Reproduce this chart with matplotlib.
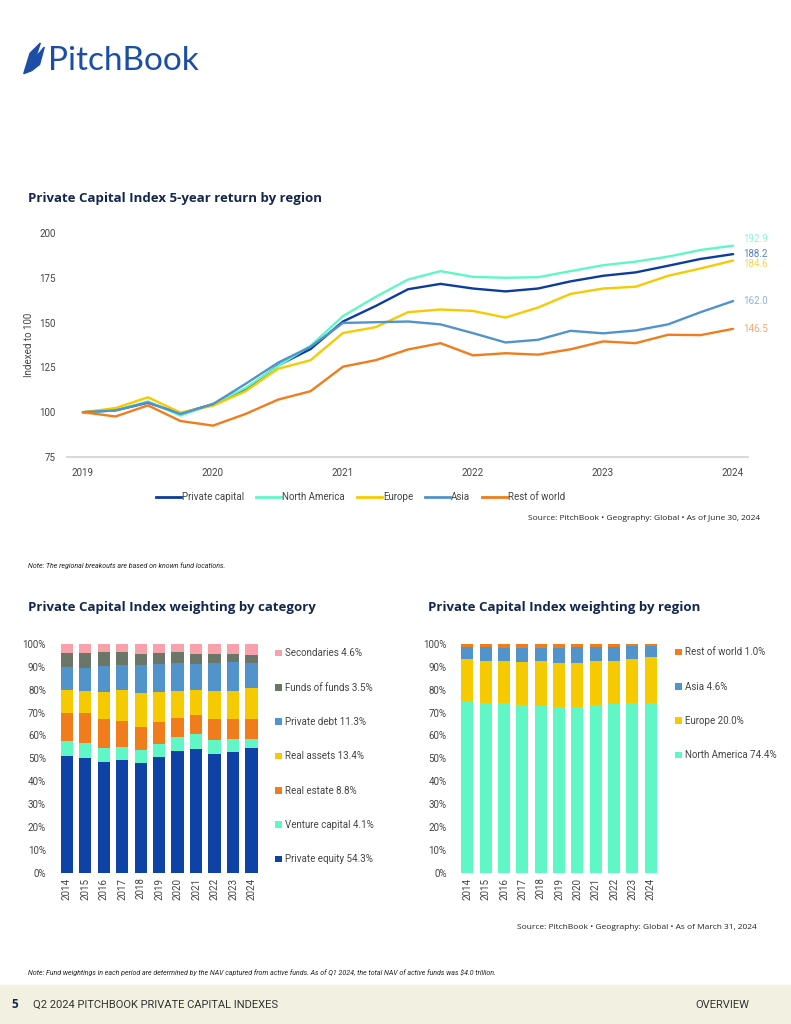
import matplotlib
matplotlib.use('Agg')

import matplotlib.pyplot as plt
import matplotlib.patches as mpatches
from matplotlib.lines import Line2D
import numpy as np

plt.rcParams['font.family'] = ['Roboto', 'DejaVu Sans']

# ---- data: 5-year return by region (quarterly, Q4 2018 .. Q2 2024 indexed to 100)
quarters = list(range(21))
year_ticks = [0, 4, 8, 12, 16, 20]
year_labels = ['2019', '2020', '2021', '2022', '2023', '2024']

private_capital = [100, 101, 105.3, 99.2, 104.5, 112.6, 126.1, 135.2, 150.6, 159.2, 168.6,
                   171.6, 169, 167.4, 169, 173, 176.1, 178, 181.7, 185.5, 188.2]
north_america = [100, 101, 106, 98.1, 104.5, 113.5, 125.8, 137, 153.6, 164.3, 174,
                 178.7, 175.5, 175, 175.3, 178.7, 182, 184, 186.8, 190.5, 192.9]
europe = [100, 102.3, 108.3, 99.8, 103.6, 111.7, 124.2, 129, 144.2, 147.4, 155.8,
          157.3, 156.5, 152.8, 158.4, 166, 169, 170, 176.1, 180.2, 184.6]
asia = [100, 101, 105.5, 99, 104.5, 115.8, 127.6, 136.5, 149.8, 150.2, 150.6,
        149, 144.1, 138.9, 140.4, 145.4, 144, 145.6, 149, 155.8, 162.0]
rest_of_world = [100, 97.6, 103.8, 95.1, 92.5, 99, 107, 111.7, 125.4, 129, 135,
                 138.5, 131.7, 132.9, 132.1, 135.1, 139.5, 138.5, 143.2, 143, 146.5]

line_names = ['Private capital', 'North America', 'Europe', 'Asia', 'Rest of world']
line_series = [private_capital, north_america, europe, asia, rest_of_world]
line_colors = ['#0c3c9e', '#5ff7c6', '#f5cb00', '#5193cb', '#f07c1c']
label_colors = ['#5a7fc4', '#8cf5d6', '#f7d54d', '#8ab4dc', '#f5a76a']
label_offsets = [0, 4, -2, 0, 0]

# ---- data: weighting by category
years = ['2014', '2015', '2016', '2017', '2018', '2019', '2020', '2021', '2022', '2023', '2024']
cat_names = ['Private equity', 'Venture capital', 'Real estate', 'Real assets',
             'Private debt', 'Funds of funds', 'Secondaries']
private_equity = [51.0, 50.0, 48.4, 49.3, 47.8, 50.7, 53.2, 54.2, 51.9, 52.8, 54.3]
venture_capital = [6.7, 6.6, 6.1, 5.8, 5.8, 5.6, 6.1, 6.4, 6.1, 5.5, 4.1]
real_estate = [12.0, 13.1, 12.6, 11.2, 10.2, 9.6, 8.5, 8.4, 9.1, 8.8, 8.8]
real_assets = [10.2, 9.9, 12.1, 13.4, 14.9, 13.3, 11.8, 10.9, 12.3, 12.5, 13.4]
private_debt = [10.2, 10.1, 11.2, 11.1, 12.0, 12.1, 11.9, 11.4, 12.4, 12.7, 11.3]
funds_of_funds = [6.1, 6.2, 6.1, 5.6, 5.1, 4.8, 5.0, 4.5, 4.0, 3.3, 3.5]
secondaries = [3.8, 4.1, 3.5, 3.6, 4.2, 3.9, 3.5, 4.2, 4.2, 4.4, 4.6]
cat_series = [private_equity, venture_capital, real_estate, real_assets,
              private_debt, funds_of_funds, secondaries]
cat_colors = ['#0e42a6', '#5ff7c6', '#f07c1c', '#f5cb00', '#5193cb', '#6b7669', '#f8a1ab']

# ---- data: weighting by region
reg_names = ['North America', 'Europe', 'Asia', 'Rest of world']
reg_na = [75.1, 74.1, 74.3, 73.5, 73.0, 72.4, 72.4, 73.2, 73.9, 74.1, 74.4]
reg_eu = [18.2, 18.3, 18.1, 18.8, 19.4, 19.4, 19.4, 19.5, 18.8, 19.5, 20.0]
reg_asia = [5.5, 6.4, 6.0, 6.1, 6.0, 6.6, 6.7, 6.0, 6.0, 5.4, 4.6]
reg_row = [1.2, 1.2, 1.6, 1.6, 1.6, 1.6, 1.5, 1.3, 1.3, 1.0, 1.0]
reg_series = [reg_na, reg_eu, reg_asia, reg_row]
reg_colors = ['#5ff7c6', '#f5cb00', '#5193cb', '#f07c1c']

navy = '#13264d'
grey_txt = '#444444'

fig = plt.figure(figsize=(7.91, 10.24), dpi=100)

# logo
fig.text(0.061, 0.940, 'PitchBook', fontsize=24, color='#1d4ea6',
         family=['Lato', 'DejaVu Sans'], va='center', ha='left')
logo = mpatches.Polygon([[0.030, 0.928], [0.038, 0.948], [0.051, 0.958],
                         [0.045, 0.944], [0.056, 0.954], [0.050, 0.937], [0.040, 0.931]],
                        closed=True, color='#1d4ea6', transform=fig.transFigure)
fig.patches.append(logo)

# ---- line chart
fig.text(0.035, 0.806, 'Private Capital Index 5-year return by region', fontsize=9.5,
         fontweight='bold', color=navy, family=['Open Sans', 'DejaVu Sans'], va='center')

ax = fig.add_axes([0.0847, 0.5537, 0.861, 0.2188])
for name, s, c in zip(line_names, line_series, line_colors):
    ax.plot(quarters, s, color=c, lw=1.7, label=name, solid_capstyle='round')
for s, c, off in zip(line_series, label_colors, label_offsets):
    ax.text(quarters[-1] + 0.3, s[-1] + off, f'{s[-1]:.1f}', color=c, fontsize=7,
            va='center', ha='left', clip_on=False)
ax.set_xlim(-0.49, 20.46)
ax.set_ylim(75, 200)
ax.set_yticks([75, 100, 125, 150, 175, 200])
ax.set_xticks(year_ticks)
ax.set_xticklabels(year_labels)
ax.tick_params(length=0, labelsize=7, colors=grey_txt, pad=8)
for sp in ['top', 'right', 'left']:
    ax.spines[sp].set_visible(False)
ax.spines['bottom'].set_color('#d9d9d9')
ax.spines['bottom'].set_linewidth(1.5)
ax.set_ylabel('Indexed to 100', fontsize=7, color=grey_txt, labelpad=4)

handles = [Line2D([0], [0], color=c, lw=2) for c in line_colors]
fig.legend(handles, line_names, loc='center', bbox_to_anchor=(0.456, 0.5145), ncol=5,
           frameon=False, fontsize=7, handlelength=2.6, handletextpad=0.1,
           columnspacing=1.2, labelcolor=grey_txt)

fig.text(0.961, 0.494, 'Source: PitchBook \u2022 Geography: Global \u2022 As of June 30, 2024',
         fontsize=6, ha='right', va='center', color='#222222',
         family=['Open Sans', 'DejaVu Sans'])
fig.text(0.035, 0.448, 'Note: The regional breakouts are based on known fund locations.',
         fontsize=5, style='italic', color='#222222', va='center')

# ---- bar charts
fig.text(0.035, 0.407, 'Private Capital Index weighting by category', fontsize=9.5,
         fontweight='bold', color=navy, family=['Open Sans', 'DejaVu Sans'], va='center')
fig.text(0.541, 0.407, 'Private Capital Index weighting by region', fontsize=9.5,
         fontweight='bold', color=navy, family=['Open Sans', 'DejaVu Sans'], va='center')


def stacked(ax, series, colors, names, legend_x, legend_top):
    x = np.arange(len(years))
    bottom = np.zeros(len(years))
    bars = []
    for s, c in zip(series, colors):
        b = ax.bar(x, s, bottom=bottom, width=0.66, color=c, edgecolor='none')
        bars.append(b)
        bottom += np.array(s)
    ax.set_xlim(-0.6, len(years) - 0.4)
    ax.set_ylim(0, 100)
    ax.set_yticks(range(0, 101, 10))
    ax.set_yticklabels([f'{v}%' for v in range(0, 101, 10)])
    ax.set_xticks(x)
    ax.set_xticklabels(years, rotation=90)
    ax.tick_params(length=0, labelsize=7, colors=grey_txt)
    ax.tick_params(axis='y', pad=7)
    for sp in ax.spines.values():
        sp.set_visible(False)
    labels = [f'{n} {s[-1]:.1f}%' for n, s in zip(names, series)]
    ax.legend(bars[::-1], labels[::-1], loc='upper left', bbox_to_anchor=(legend_x, legend_top),
              bbox_transform=fig.transFigure, frameon=False, fontsize=7, handlelength=0.7,
              handleheight=0.7, handletextpad=0.3, labelspacing=2.5, labelcolor=grey_txt,
              borderaxespad=0)


ax1 = fig.add_axes([0.0703, 0.1478, 0.2617, 0.2233])
stacked(ax1, cat_series, cat_colors, cat_names, 0.343, 0.3705)

ax2 = fig.add_axes([0.5769, 0.1478, 0.2597, 0.2233])
stacked(ax2, reg_series, reg_colors, reg_names, 0.849, 0.3715)

fig.text(0.957, 0.0945, 'Source: PitchBook \u2022 Geography: Global \u2022 As of March 31, 2024',
         fontsize=6, ha='right', va='center', color='#222222',
         family=['Open Sans', 'DejaVu Sans'])
fig.text(0.035, 0.0505, 'Note: Fund weightings in each period are determined by the NAV captured '
         'from active funds. As of Q1 2024, the total NAV of active funds was $4.0 trillion.',
         fontsize=5, style='italic', color='#222222', va='center')

# footer band
band = mpatches.Rectangle((0, 0), 1, 0.038, color='#f2f0e1', transform=fig.transFigure, zorder=0)
fig.patches.append(band)
fig.text(0.014, 0.019, '5', fontsize=8.5, fontweight='bold', color=navy, va='center',
         family=['Open Sans', 'DejaVu Sans'])
fig.text(0.042, 0.019, 'Q2 2024 PITCHBOOK PRIVATE CAPITAL INDEXES', fontsize=8,
         color='#333333', va='center')
fig.text(0.948, 0.019, 'OVERVIEW', fontsize=8, color='#333333', va='center', ha='right')

plt.savefig('out.png', dpi=100)
plt.close()
